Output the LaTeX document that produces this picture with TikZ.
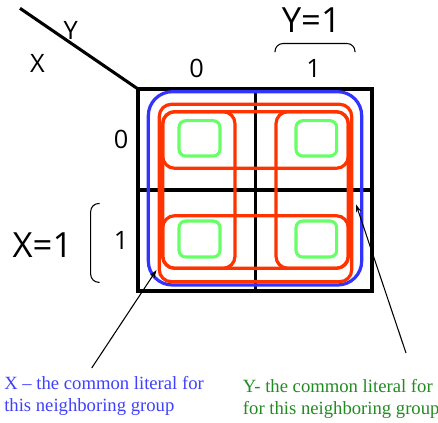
\documentclass[tikz,border=0pt]{standalone}
\usepackage{fontspec}
\setmainfont{Liberation Serif}
\newfontfamily\labfont{Open Sans}
\usetikzlibrary{arrows.meta}
\definecolor{kred}{RGB}{255,51,0}
\definecolor{kblue}{RGB}{51,51,255}
\definecolor{kgreen}{RGB}{102,255,102}
\definecolor{txtblue}{RGB}{64,64,255}
\definecolor{txtgreen}{RGB}{34,139,34}
\begin{document}
\begin{tikzpicture}[x=0.75pt,y=-0.75pt,
  gridline/.style={line width=2.3pt,black},
  bluegroup/.style={draw=kblue,line width=2.4pt,rounded corners=18pt},
  redgroup/.style={draw=kred,line width=2.4pt,rounded corners=9pt},
  greencell/.style={draw=kgreen,line width=2.3pt,rounded corners=5pt},
  small/.style={font=\labfont\fontsize{19}{22}\selectfont,inner sep=0pt},
  big/.style={font=\labfont\fontsize{26}{30}\selectfont,inner sep=0pt},
  note/.style={font=\fontsize{14}{16.3}\selectfont,inner sep=0pt,align=left,anchor=base west},
  arr/.style={line width=0.8pt,-{Stealth[length=6pt,width=4pt]}},
  bracket/.style={line width=0.8pt,rounded corners=6pt}]
\useasboundingbox (0,0) rectangle (438,422);
% grid
\coordinate (diagstart) at (20,8.3);
\coordinate (tl) at (138,89);
\draw[gridline] (tl) rectangle (372,291);
\draw[gridline] (255.5,89) -- (255.5,291);
\draw[gridline] (138,190) -- (372,190);
\draw[gridline] (diagstart) -- (tl);
% groups
\draw[bluegroup] (148.3,91.7) rectangle (361.7,285);
\draw[redgroup] (159.3,104.3) rectangle (351.7,281.7);
\draw[redgroup] (162.7,111.7) rectangle (348.3,168.3);
\draw[redgroup] (162.7,111.7) rectangle (235,268.3);
\draw[redgroup] (276,111.7) rectangle (348.3,268.3);
\draw[redgroup] (162.7,215.7) rectangle (348.3,268.3);
\draw[greencell] (179,120.7) rectangle (220,156);
\draw[greencell] (296,120.7) rectangle (336.7,156);
\draw[greencell] (179,221) rectangle (220,257);
\draw[greencell] (296,221) rectangle (336.7,257);
% labels
\node[small] (yl) at (70.8,30.5) {Y};
\node[small] (xl) at (37.5,63.8) {X};
\node[small] (c0) at (196.7,68.3) {0};
\node[small] (c1) at (313.5,68.3) {1};
\node[small] (r0) at (121,139.5) {0};
\node[small] (r1) at (121,240.5) {1};
\node[big] (y1) at (311.3,20.5) {Y=1};
\node[big] (x1) at (42.5,245) {X=1};
% brackets
\draw[bracket] (275,52) -- (275,43.5) -- (355,43.5) -- (355,52);
\draw[bracket] (99.5,203.5) -- (90.7,203.5) -- (90.7,282.3) -- (99.5,282.3);
% notes
\node[note,text=txtblue] (xnote) at (4,411.7) {X – the common literal for\\this neighboring group};
\node[note,text=txtgreen] (ynote) at (242.7,414.3) {Y- the common literal for\\for this neighboring group};
% arrows
\coordinate (xtail) at (91.7,368);
\coordinate (xtip) at (156.5,270);
\coordinate (ytail) at (406,353);
\coordinate (ytip) at (356,204.3);
\draw[arr] (xtail) -- (xtip);
\draw[arr] (ytail) -- (ytip);
\end{tikzpicture}
\end{document}
